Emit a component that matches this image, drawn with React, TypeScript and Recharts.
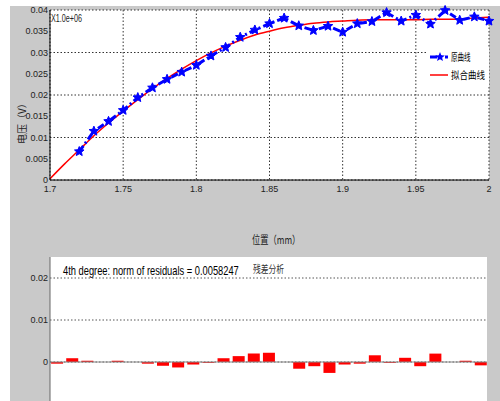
import {
  ComposedChart, Line, XAxis, YAxis, CartesianGrid, Legend,
  BarChart, Bar, ReferenceLine,
} from "recharts";

// fitted curve (4th degree)
const fitPos = [1.70, 1.71, 1.72, 1.73, 1.74, 1.75, 1.76, 1.77, 1.78, 1.79, 1.80, 1.81, 1.82, 1.83, 1.84, 1.85,
  1.86, 1.87, 1.88, 1.89, 1.90, 1.91, 1.92, 1.93, 1.94, 1.95, 1.96, 1.97, 1.98, 1.99, 2.00];
const fitVolt = [0.0003, 0.0038, 0.0071, 0.0104, 0.0134, 0.0162, 0.0189, 0.0215, 0.0239, 0.0261, 0.0281, 0.0299,
  0.0315, 0.0329, 0.0341, 0.0350, 0.0358, 0.0364, 0.0369, 0.0372, 0.0374, 0.0376, 0.0377, 0.0377, 0.0377, 0.0377,
  0.0378, 0.0378, 0.0379, 0.0381, 0.0383];

// measured curve (blue stars)
const rawPos = [1.72, 1.73, 1.74, 1.75, 1.76, 1.77, 1.78, 1.79, 1.80, 1.81, 1.82, 1.83, 1.84, 1.85, 1.86, 1.87,
  1.88, 1.89, 1.90, 1.91, 1.92, 1.93, 1.94, 1.95, 1.96, 1.97, 1.98, 1.99, 2.00];
const rawVolt = [0.0067, 0.0115, 0.0138, 0.0164, 0.0194, 0.0217, 0.0237, 0.0254, 0.0270, 0.0292, 0.0312, 0.0336,
  0.0353, 0.0368, 0.0381, 0.0363, 0.0352, 0.0362, 0.0348, 0.0368, 0.0373, 0.0394, 0.0374, 0.0388, 0.0367, 0.0399,
  0.0376, 0.0384, 0.0374];

// residuals (bottom plot)
const residuals = [-0.0004, 0.0009, 0.0003, 0, 0.0003, 0, -0.0004, -0.0009, -0.0013, -0.0006, -0.0002, 0.0009,
  0.0014, 0.0020, 0.0022, 0, -0.0016, -0.0010, -0.0026, -0.0006, -0.0004, 0.0016, -0.0002, 0.0010, -0.0010, 0.0020,
  0, 0.0003, -0.0008];

const xTicks = [1.7, 1.75, 1.8, 1.85, 1.9, 1.95, 2.0];
const yTicks = [0, 0.005, 0.01, 0.015, 0.02, 0.025, 0.03, 0.035, 0.04];
const resTicks = [-0.01, 0, 0.01, 0.02];
const resXTicks = [1.75, 1.8, 1.85, 1.9, 1.95, 2.0];

const fitData = fitPos.map((p, i) => ({ pos: p, volt: fitVolt[i] }));
const rawData = rawPos.map((p, i) => ({ pos: p, volt: rawVolt[i] }));
const resData = rawPos.map((p, i) => ({ pos: p, res: residuals[i] }));

const FIG = "#c9c9c9";
const sans = "'Liberation Sans', Arial, sans-serif";
const cjk = "'Noto Sans CJK SC', sans-serif";
const tickStyle = { fontSize: 9, fill: "#222", fontFamily: sans };

function starPath(cx: number, cy: number, r: number) {
  let d = "";
  for (let k = 0; k < 10; k++) {
    const rad = k % 2 === 0 ? r : r * 0.45;
    const a = -Math.PI / 2 + (k * Math.PI) / 5;
    d += (k === 0 ? "M" : "L") + (cx + rad * Math.cos(a)).toFixed(2) + "," + (cy + rad * Math.sin(a)).toFixed(2);
  }
  return d + "Z";
}

const StarDot = (props: any) => {
  const { cx, cy, index } = props;
  if (cx == null || cy == null) return <g key={`s-${index}`} />;
  return <path key={`s-${index}`} d={starPath(cx, cy, 5)} fill="#0000ff" stroke="#0000ff" strokeWidth={1} />;
};

const fmtX = (v: number) => String(parseFloat(v.toFixed(2)));
const fmtY = (v: number) => String(parseFloat(v.toFixed(3)));

function LegendBox() {
  return (
    <svg width={62} height={38}>
      <line x1={3} y1={10} x2={21} y2={10} stroke="#0000ff" strokeWidth={3} strokeDasharray="7 3 2 3" />
      <path d={starPath(13, 10, 5)} fill="#0000ff" />
      <text transform="translate(24,14) scale(0.65,1)" fontSize={10} fontFamily={cjk} fill="#000">原曲线</text>
      <text transform="translate(24,32) scale(0.85,1)" fontSize={10} fontFamily={cjk} fill="#000">拟合曲线</text>
      <line x1={3} y1={28} x2={21} y2={28} stroke="#ff0000" strokeWidth={1.5} />
    </svg>
  );
}

export default function App() {
  return (
    <div style={{ position: "absolute", left: 0, top: 0, width: 500, height: 401, overflow: "hidden", background: "#fff" }}>
      <div style={{ position: "absolute", left: 10, top: 6, right: 0, bottom: 0, background: FIG }} />

      <div style={{ position: "absolute", left: 0, top: 0 }}>
        <ComposedChart width={500} height={250} margin={{ top: 10, right: 11, left: 10, bottom: 12 }}>
          <CartesianGrid fill="#fff" stroke="#333" strokeDasharray="1.5 2" verticalValues={xTicks} horizontalValues={yTicks} />
          <XAxis dataKey="pos" type="number" domain={[1.7, 2.0]} ticks={xTicks} tickFormatter={fmtX}
            height={20} tickSize={0} tickMargin={6} axisLine={{ stroke: "#000" }} tick={tickStyle} allowDuplicatedCategory={false} />
          <XAxis xAxisId="top" orientation="top" dataKey="pos" type="number" domain={[1.7, 2.0]} ticks={xTicks}
            height={0} tickSize={0} tick={false} axisLine={{ stroke: "#000" }} />
          <YAxis type="number" domain={[0, 0.04]} ticks={yTicks} tickFormatter={fmtY} width={40}
            tickSize={0} tickMargin={2} axisLine={{ stroke: "#000" }} tick={tickStyle} />
          <YAxis yAxisId="right" orientation="right" type="number" domain={[0, 0.04]} ticks={yTicks}
            width={0} tickSize={0} tick={false} axisLine={{ stroke: "#000" }} />
          <Line data={fitData} dataKey="volt" type="monotone" stroke="#ff0000" strokeWidth={1.5} dot={false}
            isAnimationActive={false} name="拟合曲线" />
          <Line data={rawData} dataKey="volt" type="linear" stroke="#0000ff" strokeWidth={3} strokeDasharray="7 3 2 3"
            dot={StarDot} activeDot={false} isAnimationActive={false} name="原曲线" />
          <Legend content={() => <LegendBox />}
            wrapperStyle={{ left: 427, top: 47, width: 62, height: 38, background: "#fff" }} />
        </ComposedChart>
      </div>

      <div style={{ position: "absolute", left: 0, top: 250 }}>
        <BarChart width={500} height={230} data={resData} margin={{ top: 7, right: 13, left: 10, bottom: 0 }}>
          <CartesianGrid fill="#fff" stroke="#555" strokeDasharray="1.5 2" vertical={false} horizontalValues={resTicks} />
          <XAxis dataKey="pos" type="number" domain={[1.7156, 2.0044]} ticks={resXTicks}
            height={13} tickSize={0} tick={false} axisLine={{ stroke: "#666" }} />
          <XAxis xAxisId="top" orientation="top" dataKey="pos" type="number" domain={[1.7156, 2.0044]} ticks={resXTicks}
            mirror height={0} tickSize={5} tickLine={{ stroke: "#666" }} tickFormatter={() => ""} axisLine={{ stroke: "#666" }} />
          <YAxis type="number" domain={[-0.025, 0.025]} ticks={resTicks} tickFormatter={fmtY} width={40}
            tickSize={0} tickMargin={2} axisLine={{ stroke: "#666" }} tick={tickStyle} />
          <YAxis yAxisId="right" orientation="right" type="number" domain={[-0.025, 0.025]} ticks={resTicks}
            width={0} tickSize={0} tick={false} axisLine={{ stroke: "#666" }} />
          <ReferenceLine y={0} stroke="#888" strokeWidth={1} />
          <Bar dataKey="res" fill="#ff0000" barSize={12} isAnimationActive={false} />
        </BarChart>
      </div>

      <svg style={{ position: "absolute", left: 0, top: 0 }} width={500} height={401}>
        <text transform="translate(51,22) scale(0.72,1)" fontSize={10} fontFamily={sans} fill="#222">X1.0e+06</text>
        <text transform="translate(26,121) rotate(-90)" textAnchor="middle" fontSize={10} fontFamily={cjk} fill="#222">电压（V）</text>
        <text transform="translate(252,244) scale(0.75,1)" fontSize={11} fontFamily={cjk} fill="#222">位置（mm）</text>
        <text transform="translate(63,275) scale(0.777,1)" fontSize={12} fontFamily={sans} fill="#000">4th degree: norm of residuals = 0.0058247</text>
        <text transform="translate(253,273) scale(0.78,1)" fontSize={10} fontFamily={cjk} fill="#333">残差分析</text>
      </svg>
    </div>
  );
}
